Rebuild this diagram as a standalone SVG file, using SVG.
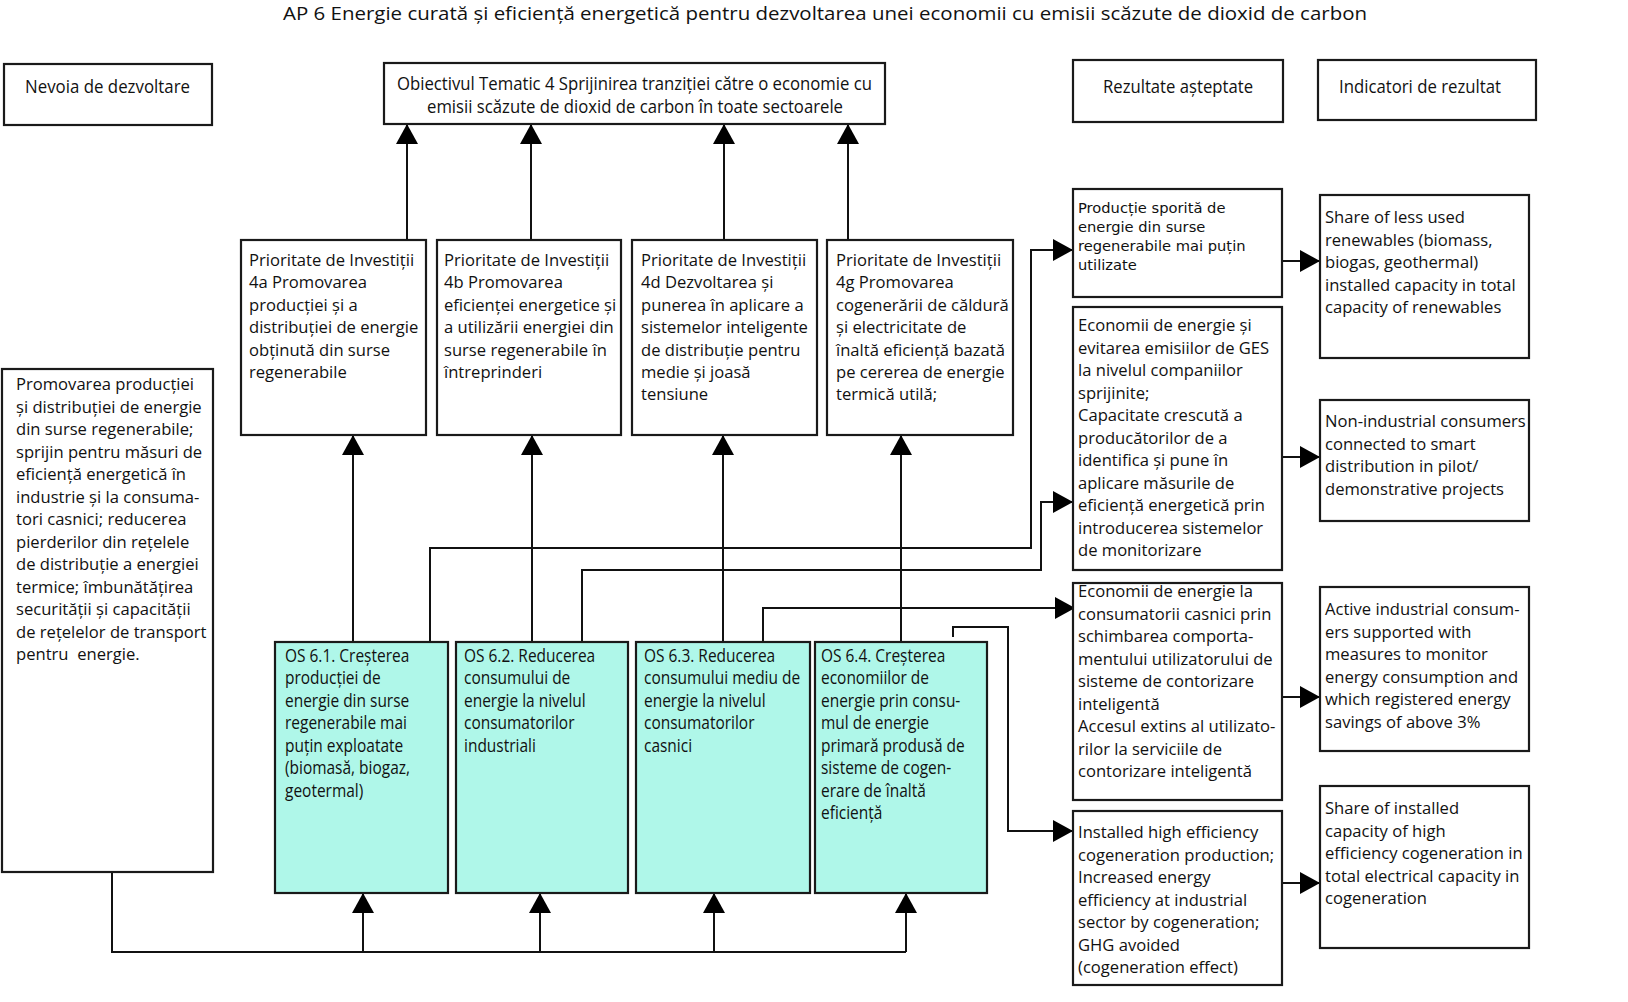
<svg xmlns="http://www.w3.org/2000/svg" width="1628" height="1002" viewBox="0 0 1628 1002">
<defs>
<style>
.box{fill:#fff;stroke:#1a1a1a;stroke-width:2.2}
.os{fill:#aff7e9;stroke:#1a1a1a;stroke-width:2.2}
.t{font-family:"Open Sans","Noto Sans",sans-serif;font-size:16.6px;fill:#111}
.oc{font-family:"Open Sans","Noto Sans",sans-serif;font-size:18px;fill:#111}
.h{font-family:"Open Sans","Noto Sans",sans-serif;font-size:18.5px;fill:#111}
.s{font-family:"DejaVu Sans",Verdana,sans-serif;font-size:14.7px;fill:#111}
.conn{fill:none;stroke:#111;stroke-width:2}
</style>
<marker id="arr" viewBox="0 0 20 22" refX="20" refY="11" markerWidth="20" markerHeight="22" orient="auto" markerUnits="userSpaceOnUse">
<path d="M0,0 L20,11 L0,22 z" fill="#000"/>
</marker>
</defs>
<rect width="1628" height="1002" fill="#fff"/>

<text id="title" class="h" x="283" y="20" font-size="22" textLength="1084" lengthAdjust="spacingAndGlyphs">AP 6 Energie curată și eficiență energetică pentru dezvoltarea unei economii cu emisii scăzute de dioxid de carbon</text>

<g id="connectors" class="conn">
<path d="M407,240 V124" marker-end="url(#arr)"/>
<path d="M531,240 V124" marker-end="url(#arr)"/>
<path d="M724,240 V124" marker-end="url(#arr)"/>
<path d="M848,240 V124" marker-end="url(#arr)"/>
<path d="M353,642 V435" marker-end="url(#arr)"/>
<path d="M532,642 V435" marker-end="url(#arr)"/>
<path d="M723,642 V435" marker-end="url(#arr)"/>
<path d="M901,642 V435" marker-end="url(#arr)"/>
<path d="M112,872 V952 H906"/>
<path d="M363,952 V893" marker-end="url(#arr)"/>
<path d="M540,952 V893" marker-end="url(#arr)"/>
<path d="M714,952 V893" marker-end="url(#arr)"/>
<path d="M906,952 V893" marker-end="url(#arr)"/>
<path d="M430,642 V548 H1031 V250 H1073" marker-end="url(#arr)"/>
<path d="M582,642 V570 H1041 V502 H1073" marker-end="url(#arr)"/>
<path d="M763,642 V608 H1075" marker-end="url(#arr)"/>
<path d="M953,637 V627 H1008 V831 H1073" marker-end="url(#arr)"/>
<path d="M1282,261 H1320" marker-end="url(#arr)"/>
<path d="M1282,457 H1320" marker-end="url(#arr)"/>
<path d="M1282,697 H1320" marker-end="url(#arr)"/>
<path d="M1282,883 H1320" marker-end="url(#arr)"/>
</g>

<g id="nevoia">
<rect class="box" x="4" y="64" width="208" height="61"/>
<text class="h" x="25" y="93" textLength="165" lengthAdjust="spacingAndGlyphs">Nevoia de dezvoltare</text>
</g>
<g id="obiectiv">
<rect class="box" x="384" y="63" width="501" height="61"/>
<text class="h" x="397" y="90" textLength="475" lengthAdjust="spacingAndGlyphs">Obiectivul Tematic 4 Sprijinirea tranziției către o economie cu</text>
<text class="h" x="427" y="113" textLength="416" lengthAdjust="spacingAndGlyphs">emisii scăzute de dioxid de carbon în toate sectoarele</text>
</g>
<g id="rezultate">
<rect class="box" x="1073" y="60" width="210" height="62"/>
<text class="h" x="1103" y="93" textLength="150" lengthAdjust="spacingAndGlyphs">Rezultate așteptate</text>
</g>
<g id="indicatori">
<rect class="box" x="1318" y="60" width="218" height="60"/>
<text class="h" x="1339" y="93" textLength="162" lengthAdjust="spacingAndGlyphs">Indicatori de rezultat</text>
</g>

<g id="pi4a">
<rect class="box" x="241" y="240" width="185" height="195"/>
<text class="t" x="249" y="266"><tspan x="249">Prioritate de Investiții</tspan><tspan x="249" dy="22.4">4a Promovarea</tspan><tspan x="249" dy="22.4">producției și a</tspan><tspan x="249" dy="22.4">distribuției de energie</tspan><tspan x="249" dy="22.4">obținută din surse</tspan><tspan x="249" dy="22.4">regenerabile</tspan></text>
</g>
<g id="pi4b">
<rect class="box" x="437" y="240" width="184" height="195"/>
<text class="t" x="444" y="266"><tspan x="444">Prioritate de Investiții</tspan><tspan x="444" dy="22.4">4b Promovarea</tspan><tspan x="444" dy="22.4">eficienței energetice și</tspan><tspan x="444" dy="22.4">a utilizării energiei din</tspan><tspan x="444" dy="22.4">surse regenerabile în</tspan><tspan x="444" dy="22.4">întreprinderi</tspan></text>
</g>
<g id="pi4d">
<rect class="box" x="632" y="240" width="185" height="195"/>
<text class="t" x="641" y="266"><tspan x="641">Prioritate de Investiții</tspan><tspan x="641" dy="22.4">4d Dezvoltarea și</tspan><tspan x="641" dy="22.4">punerea în aplicare a</tspan><tspan x="641" dy="22.4">sistemelor inteligente</tspan><tspan x="641" dy="22.4">de distribuție pentru</tspan><tspan x="641" dy="22.4">medie și joasă</tspan><tspan x="641" dy="22.4">tensiune</tspan></text>
</g>
<g id="pi4g">
<rect class="box" x="827" y="240" width="186" height="195"/>
<text class="t" x="836" y="266"><tspan x="836">Prioritate de Investiții</tspan><tspan x="836" dy="22.4">4g Promovarea</tspan><tspan x="836" dy="22.4">cogenerării de căldură</tspan><tspan x="836" dy="22.4">și electricitate de</tspan><tspan x="836" dy="22.4">înaltă eficiență bazată</tspan><tspan x="836" dy="22.4">pe cererea de energie</tspan><tspan x="836" dy="22.4">termică utilă;</tspan></text>
</g>

<g id="nevoie-text">
<rect class="box" x="2" y="369" width="211" height="503"/>
<text class="t" x="16" y="390"><tspan x="16">Promovarea producției</tspan><tspan x="16" dy="22.5">și distribuției de energie</tspan><tspan x="16" dy="22.5">din surse regenerabile;</tspan><tspan x="16" dy="22.5">sprijin pentru măsuri de</tspan><tspan x="16" dy="22.5">eficiență energetică în</tspan><tspan x="16" dy="22.5">industrie și la consuma-</tspan><tspan x="16" dy="22.5">tori casnici; reducerea</tspan><tspan x="16" dy="22.5">pierderilor din rețelele</tspan><tspan x="16" dy="22.5">de distribuție a energiei</tspan><tspan x="16" dy="22.5">termice; îmbunătățirea</tspan><tspan x="16" dy="22.5">securității și capacității</tspan><tspan x="16" dy="22.5">de rețelelor de transport</tspan><tspan x="16" dy="22.5">pentru&#160; energie.</tspan></text>
</g>

<g id="os61">
<rect class="os" x="275" y="642" width="173" height="251"/>
<text class="oc" transform="translate(285,662) scale(0.86,1)"><tspan x="0" y="0">OS 6.1. Creșterea</tspan><tspan x="0" dy="22.5">producției de</tspan><tspan x="0" dy="22.5">energie din surse</tspan><tspan x="0" dy="22.5">regenerabile mai</tspan><tspan x="0" dy="22.5">puțin exploatate</tspan><tspan x="0" dy="22.5">(biomasă, biogaz,</tspan><tspan x="0" dy="22.5">geotermal)</tspan></text>
</g>
<g id="os62">
<rect class="os" x="456" y="642" width="172" height="251"/>
<text class="oc" transform="translate(464,662) scale(0.86,1)"><tspan x="0" y="0">OS 6.2. Reducerea</tspan><tspan x="0" dy="22.5">consumului de</tspan><tspan x="0" dy="22.5">energie la nivelul</tspan><tspan x="0" dy="22.5">consumatorilor</tspan><tspan x="0" dy="22.5">industriali</tspan></text>
</g>
<g id="os63">
<rect class="os" x="636" y="642" width="174" height="251"/>
<text class="oc" transform="translate(644,662) scale(0.86,1)"><tspan x="0" y="0">OS 6.3. Reducerea</tspan><tspan x="0" dy="22.5">consumului mediu de</tspan><tspan x="0" dy="22.5">energie la nivelul</tspan><tspan x="0" dy="22.5">consumatorilor</tspan><tspan x="0" dy="22.5">casnici</tspan></text>
</g>
<g id="os64">
<rect class="os" x="815" y="642" width="172" height="251"/>
<text class="oc" transform="translate(821,662) scale(0.86,1)"><tspan x="0" y="0">OS 6.4. Creșterea</tspan><tspan x="0" dy="22.5">economiilor de</tspan><tspan x="0" dy="22.5">energie prin consu-</tspan><tspan x="0" dy="22.5">mul de energie</tspan><tspan x="0" dy="22.5">primară produsă de</tspan><tspan x="0" dy="22.5">sisteme de cogen-</tspan><tspan x="0" dy="22.5">erare de înaltă</tspan><tspan x="0" dy="22.5">eficiență</tspan></text>
</g>

<g id="r1">
<rect class="box" x="1073" y="189" width="209" height="108"/>
<text class="s" x="1078" y="213"><tspan x="1078">Producție sporită de</tspan><tspan x="1078" dy="19">energie din surse</tspan><tspan x="1078" dy="19">regenerabile mai puțin</tspan><tspan x="1078" dy="19">utilizate</tspan></text>
</g>
<g id="r2">
<rect class="box" x="1073" y="307" width="209" height="263"/>
<text class="t" x="1078" y="331"><tspan x="1078">Economii de energie și</tspan><tspan x="1078" dy="22.5">evitarea emisiilor de GES</tspan><tspan x="1078" dy="22.5">la nivelul companiilor</tspan><tspan x="1078" dy="22.5">sprijinite;</tspan><tspan x="1078" dy="22.5">Capacitate crescută a</tspan><tspan x="1078" dy="22.5">producătorilor de a</tspan><tspan x="1078" dy="22.5">identifica și pune în</tspan><tspan x="1078" dy="22.5">aplicare măsurile de</tspan><tspan x="1078" dy="22.5">eficiență energetică prin</tspan><tspan x="1078" dy="22.5">introducerea sistemelor</tspan><tspan x="1078" dy="22.5">de monitorizare</tspan></text>
</g>
<g id="r3">
<rect class="box" x="1073" y="583" width="209" height="217"/>
<text class="t" x="1078" y="597"><tspan x="1078">Economii de energie la</tspan><tspan x="1078" dy="22.5">consumatorii casnici prin</tspan><tspan x="1078" dy="22.5">schimbarea comporta-</tspan><tspan x="1078" dy="22.5">mentului utilizatorului de</tspan><tspan x="1078" dy="22.5">sisteme de contorizare</tspan><tspan x="1078" dy="22.5">inteligentă</tspan><tspan x="1078" dy="22.5">Accesul extins al utilizato-</tspan><tspan x="1078" dy="22.5">rilor la serviciile de</tspan><tspan x="1078" dy="22.5">contorizare inteligentă</tspan></text>
</g>
<g id="r4">
<rect class="box" x="1073" y="811" width="209" height="174"/>
<text class="t" x="1078" y="838"><tspan x="1078">Installed high efficiency</tspan><tspan x="1078" dy="22.5">cogeneration production;</tspan><tspan x="1078" dy="22.5">Increased energy</tspan><tspan x="1078" dy="22.5">efficiency at industrial</tspan><tspan x="1078" dy="22.5">sector by cogeneration;</tspan><tspan x="1078" dy="22.5">GHG avoided</tspan><tspan x="1078" dy="22.5">(cogeneration effect)</tspan></text>
</g>

<g id="i1">
<rect class="box" x="1320" y="195" width="209" height="163"/>
<text class="t" x="1325" y="223"><tspan x="1325">Share of less used</tspan><tspan x="1325" dy="22.5">renewables (biomass,</tspan><tspan x="1325" dy="22.5">biogas, geothermal)</tspan><tspan x="1325" dy="22.5">installed capacity in total</tspan><tspan x="1325" dy="22.5">capacity of renewables</tspan></text>
</g>
<g id="i2">
<rect class="box" x="1320" y="400" width="209" height="121"/>
<text class="t" x="1325" y="427"><tspan x="1325">Non-industrial consumers</tspan><tspan x="1325" dy="22.5">connected to smart</tspan><tspan x="1325" dy="22.5">distribution in pilot/</tspan><tspan x="1325" dy="22.5">demonstrative projects</tspan></text>
</g>
<g id="i3">
<rect class="box" x="1320" y="587" width="209" height="164"/>
<text class="t" x="1325" y="615"><tspan x="1325">Active industrial consum-</tspan><tspan x="1325" dy="22.5">ers supported with</tspan><tspan x="1325" dy="22.5">measures to monitor</tspan><tspan x="1325" dy="22.5">energy consumption and</tspan><tspan x="1325" dy="22.5">which registered energy</tspan><tspan x="1325" dy="22.5">savings of above 3%</tspan></text>
</g>
<g id="i4">
<rect class="box" x="1320" y="786" width="209" height="162"/>
<text class="t" x="1325" y="814"><tspan x="1325">Share of installed</tspan><tspan x="1325" dy="22.5">capacity of high</tspan><tspan x="1325" dy="22.5">efficiency cogeneration in</tspan><tspan x="1325" dy="22.5">total electrical capacity in</tspan><tspan x="1325" dy="22.5">cogeneration</tspan></text>
</g>
</svg>
